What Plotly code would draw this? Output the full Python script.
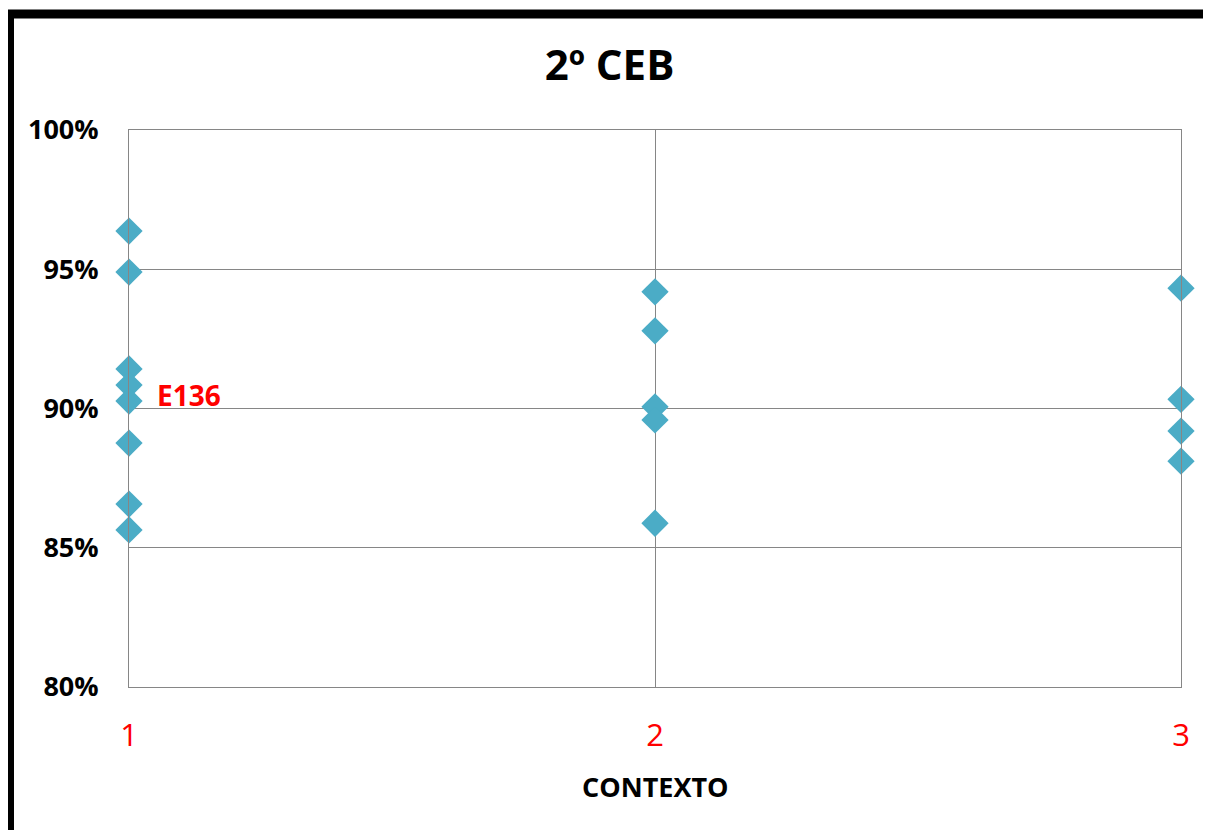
import plotly.graph_objects as go

contexto = [1, 1, 1, 1, 1, 1, 1, 1,
            2, 2, 2, 2, 2,
            3, 3, 3, 3]
valores = [0.9637, 0.9490, 0.9142, 0.9084, 0.9027, 0.8876, 0.8657, 0.8564,
           0.9419, 0.9279, 0.9006, 0.8959, 0.8588,
           0.9432, 0.9033, 0.8919, 0.8811]
x_ticks = [1, 2, 3]
y_ticks = [0.80, 0.85, 0.90, 0.95, 1.00]
label_text = "E136"
label_x = 1
label_y = 0.9048

FONT = "Open Sans"

# page has an 8px body margin: figure is drawn smaller and offset
W, H = 1203, 822
L, R, T, B = 121, 30, 122, 143
pw, ph = W - L - R, H - T - B

fig = go.Figure()
fig.add_trace(go.Scatter(
    x=contexto, y=valores, mode="markers",
    marker=dict(symbol="diamond", size=21, color="#4BACC6",
                line=dict(width=0)),
    showlegend=False, cliponaxis=False,
))

fig.add_annotation(x=label_x, y=label_y, text=f"<b>{label_text}</b>",
                   showarrow=False, xanchor="left", yanchor="middle",
                   xshift=26, font=dict(family=FONT, size=28, color="#FF0000"))

fig.add_annotation(x=0.5, y=(ph - (778 - T)) / ph, xref="paper", yref="paper",
                   text="<b>CONTEXTO</b>", showarrow=False, yanchor="middle",
                   font=dict(family=FONT, size=27, color="black"))

fig.update_layout(
    width=W, height=H,
    margin=dict(l=L, r=R, t=T, b=B),
    paper_bgcolor="white", plot_bgcolor="white",
    title=dict(text="<b>2º CEB</b>", x=0.5, xanchor="center",
               y=1 - 57 / H, yanchor="middle", yref="container",
               font=dict(family=FONT, size=42, color="black")),
    xaxis=dict(range=[1, 3], tickvals=x_ticks, ticktext=[str(t) for t in x_ticks],
               showgrid=True, gridcolor="#868686", gridwidth=1,
               showline=True, linecolor="#868686", linewidth=1, mirror=True,
               zeroline=False, ticks="", ticklabelstandoff=21,
               tickfont=dict(family=FONT, size=31, color="#FF0000")),
    yaxis=dict(range=[0.80, 1.00], tickvals=y_ticks, tickformat=".0%",
               showgrid=True, gridcolor="#868686", gridwidth=1,
               showline=True, linecolor="#868686", linewidth=1, mirror=True,
               zeroline=False, ticks="", ticklabelstandoff=24,
               tickfont=dict(family=FONT, size=27, color="black", weight="bold")),
)

# outer black border (cut off at right and bottom)
fig.add_shape(type="rect", xref="paper", yref="paper",
              x0=(1.5 - L) / pw, x1=(W + 40 - L) / pw,
              y0=-(B + 40) / ph, y1=(ph + T - 6) / ph,
              line=dict(color="black", width=9), fillcolor="rgba(0,0,0,0)",
              layer="above")

fig.write_html("out.html")
